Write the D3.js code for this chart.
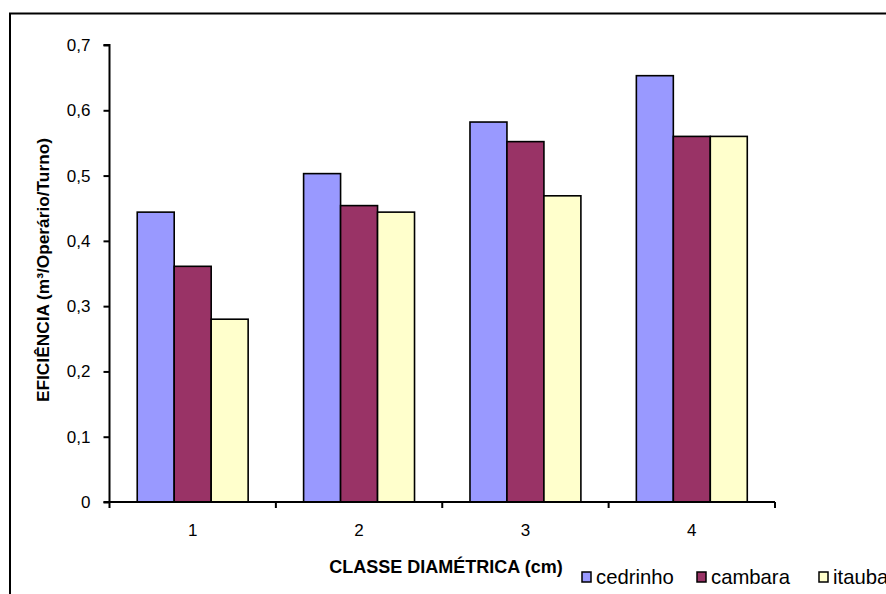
<!DOCTYPE html>
<html>
<head>
<meta charset="utf-8">
<script src="https://cdn.jsdelivr.net/npm/d3@7"></script>
<style>
  html, body { margin: 0; padding: 0; background: #fff; }
  svg { display: block; font-family: "Liberation Sans", Arial, sans-serif; }
</style>
</head>
<body>
<svg id="chart" width="886" height="594"></svg>
<script>
// Diameter classes and productivity per species
const categories = ["1", "2", "3", "4"];
const series = ["cedrinho", "cambara", "itauba"];
const cedrinho = [0.444, 0.503, 0.582, 0.653];
const cambara  = [0.361, 0.454, 0.552, 0.560];
const itauba   = [0.280, 0.444, 0.469, 0.560];
const yTicks = [0, 0.1, 0.2, 0.3, 0.4, 0.5, 0.6, 0.7];
const colors = ["#9999FF", "#993366", "#FFFFCC"];

const values = { cedrinho, cambara, itauba };
const rows = categories.map((c, i) => ({ cat: c, vals: series.map(s => ({ key: s, v: values[s][i] })) }));

const svg = d3.select("#chart");
const m = { left: 109.5, right: 775, top: 45, bottom: 502 };
const FONT = "Liberation Sans, Arial, sans-serif";

// Outer chart frame
svg.append("rect")
  .attr("x", 10).attr("y", 13.5).attr("width", 900).attr("height", 620)
  .attr("fill", "none").attr("stroke", "#000").attr("stroke-width", 2);

const x0 = d3.scaleBand().domain(categories).range([m.left, m.right]).padding(0);
const unit = x0.bandwidth() / 4.5;
const x1 = d3.scaleBand().domain(series).range([0.75 * unit, 3.75 * unit]).padding(0);
const y = d3.scaleLinear().domain([0, 0.7]).range([m.bottom, m.top]);
const color = d3.scaleOrdinal().domain(series).range(colors);

// Bars
const g = svg.append("g");
g.selectAll("g.grp").data(rows).join("g")
  .attr("class", "grp")
  .attr("transform", d => `translate(${x0(d.cat)},0)`)
  .selectAll("rect").data(d => d.vals).join("rect")
  .attr("x", d => x1(d.key))
  .attr("y", d => y(d.v))
  .attr("width", x1.bandwidth())
  .attr("height", d => y(0) - y(d.v))
  .attr("fill", d => color(d.key))
  .attr("stroke", "#000")
  .attr("stroke-width", 1.6);

// Y axis
const yAxis = d3.axisLeft(y).tickValues(yTicks).tickSize(6).tickPadding(13)
  .tickFormat(d => d === 0 ? "0" : d3.format(".1f")(d).replace(".", ","));
const ya = svg.append("g").attr("transform", `translate(${m.left},0)`).call(yAxis);
ya.select(".domain").attr("d", `M-6,${m.top}H0V${m.bottom}H-6`).attr("stroke-width", 2);
ya.selectAll(".tick line").attr("stroke-width", 2);
ya.selectAll("text").attr("font-size", 17).attr("fill", "#000").attr("font-family", FONT);

// X axis: category labels centred, tick marks on category boundaries
const xAxis = d3.axisBottom(x0).tickSize(0).tickPadding(22);
const xa = svg.append("g").attr("transform", `translate(0,${m.bottom})`).call(xAxis);
xa.select(".domain").attr("d", `M${m.left},0H${m.right}`).attr("stroke-width", 2);
xa.selectAll("text").attr("font-size", 17).attr("fill", "#000").attr("font-family", FONT);
const bounds = categories.map(c => x0(c)).concat([x0(categories[categories.length - 1]) + x0.bandwidth()]);
xa.selectAll("line.bnd").data(bounds).join("line")
  .attr("class", "bnd")
  .attr("x1", d => d).attr("x2", d => d).attr("y1", 0).attr("y2", 6)
  .attr("stroke", "#000").attr("stroke-width", 2);

// Axis titles
svg.append("text")
  .attr("x", 446).attr("y", 573)
  .attr("text-anchor", "middle")
  .attr("font-size", 18).attr("font-weight", "bold")
  .text("CLASSE DIAMÉTRICA (cm)");

svg.append("text")
  .attr("transform", "translate(48.5,270) rotate(-90)")
  .attr("text-anchor", "middle")
  .attr("font-size", 17.3).attr("font-weight", "bold")
  .text("EFICIÊNCIA (m³/Operário/Turno)");

// Legend
const legX = [582, 697, 819];
const leg = svg.append("g").selectAll("g").data(series).join("g")
  .attr("transform", (d, i) => `translate(${legX[i]},572)`);
leg.append("rect").attr("width", 9).attr("height", 10)
  .attr("fill", d => color(d)).attr("stroke", "#000").attr("stroke-width", 1.5);
leg.append("text").attr("x", 14).attr("y", 12)
  .attr("font-size", 20.3).text(d => d);
</script>
</body>
</html>
